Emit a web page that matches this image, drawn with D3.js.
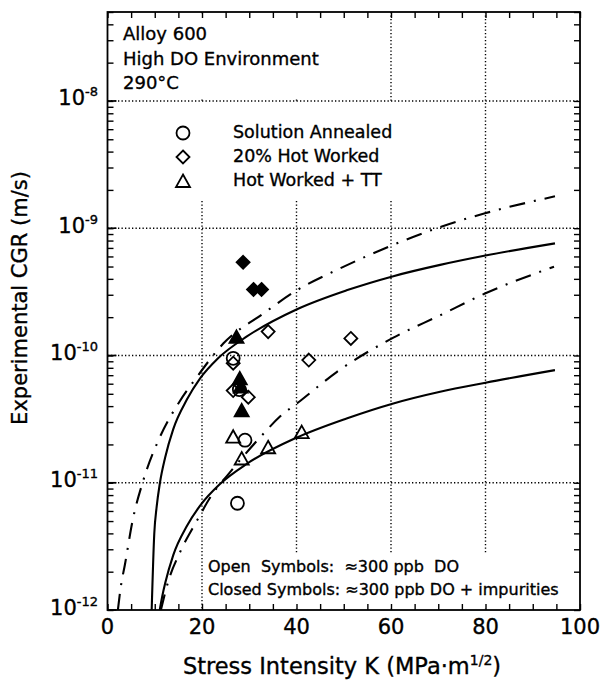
<!DOCTYPE html>
<html><head><meta charset="utf-8">
<script src="https://cdn.jsdelivr.net/npm/d3@7"></script>
<style>
html,body{margin:0;padding:0;background:#fff;}
svg text{font-family:"DejaVu Sans",sans-serif;fill:#000;stroke:#000;stroke-width:0.35px;}
</style></head><body>
<svg id="c" width="602" height="683"></svg>
<script>
// ---------- data ----------
const xTickLabels=[0,20,40,60,80,100];
const yTickExponents=[-12,-11,-10,-9,-8];
const xGridValues=[20,40,60,80];
const yGridValues=[1e-11,1e-10,1e-9,1e-8];

// model curves (K in MPa·m^1/2, CGR in m/s)
const upperSolidK=[9.35,9.9,10.4,11.1,12.2,13.9,16.8,19.6,23.4,29.5,40,50.6,60.5,70.4,80,94.7];
const upperSolidCGR=[1.0e-12,3.98e-12,6.46e-12,1.0e-11,1.58e-11,2.63e-11,4.5e-11,6.6e-11,9.5e-11,1.41e-10,2.3e-10,3.25e-10,4.2e-10,5.15e-10,6.1e-10,7.6e-10];
const lowerSolidK=[11.05,11.6,12.2,13.9,16.8,19.6,23.8,29.5,40,50.6,60.5,70.4,80,94.7];
const lowerSolidCGR=[1.0e-12,1.29e-12,1.62e-12,2.69e-12,4.57e-12,6.61e-12,9.77e-12,1.41e-11,2.26e-11,3.2e-11,4.2e-11,5.19e-11,6.11e-11,7.67e-11];
const upperDashDotK=[2.2,2.8,3.7,5.3,7.6,11.1,15.3,18.9,24.5,33,40,49.2,60.5,69.7,79.9,94.7];
const upperDashDotCGR=[1.0e-12,1.51e-12,2.29e-12,5.01e-12,1.05e-11,2.29e-11,4.37e-11,6.76e-11,1.24e-10,2.14e-10,3.24e-10,4.83e-10,7.41e-10,1.0e-9,1.31e-9,1.78e-9];
const lowerDashDotK=[11.3,12.9,15.3,18.9,22,25.6,32.6,36.5,40.7,48.5,60.5,70.4,80,94.5];
const lowerDashDotCGR=[1.0e-12,1.70e-12,2.82e-12,5.01e-12,7.94e-12,1.17e-11,2.34e-11,3.31e-11,4.37e-11,7.41e-11,1.38e-10,2.07e-10,3.08e-10,4.98e-10];

// measured points
const openCircleK=[26.6,27.9,29.1,27.5];
const openCircleCGR=[9.5e-11,5.4e-11,2.16e-11,6.9e-12];
const openDiamondK=[34.0,51.5,42.6,26.6,26.6,29.8];
const openDiamondCGR=[1.54e-10,1.36e-10,9.2e-11,8.7e-11,5.3e-11,4.7e-11];
const openTriangleK=[26.6,28.4,34.0,41.1];
const openTriangleCGR=[2.3e-11,1.55e-11,1.9e-11,2.5e-11];
const closedDiamondK=[28.7,30.9,32.6];
const closedDiamondCGR=[5.4e-10,3.3e-10,3.3e-10];
const closedTriangleK=[27.3,28.0,28.2,28.4];
const closedTriangleCGR=[1.4e-10,6.6e-11,5.7e-11,3.7e-11];

const legendLabels=["Solution Annealed","20% Hot Worked","Hot Worked + TT"];
const legendShapes=["circle","diamond","triangle"];
const titleLines=["Alloy 600","High DO Environment","290°C"];
const noteLines=["Open  Symbols:  ≈300 ppb  DO","Closed Symbols: ≈300 ppb DO + impurities"];

// ---------- layout ----------
const L=107.5,R=580,T=12,B=610;
const svg=d3.select('#c');
const x=d3.scaleLinear().domain([0,100]).range([L,R]);
const y=d3.scaleLog().domain([1e-12,5e-8]).range([B,T]);

svg.append('defs').append('clipPath').attr('id','plot')
  .append('rect').attr('x',L).attr('y',T).attr('width',R-L).attr('height',B-T);

const grid=svg.append('g').attr('stroke','#000').attr('stroke-width',1.4).attr('stroke-dasharray','1.3,2.2');
grid.selectAll('line.v').data(xGridValues).join('line').attr('class','v')
  .attr('x1',d=>x(d)).attr('x2',d=>x(d)).attr('y1',T).attr('y2',B);
grid.selectAll('line.h').data(yGridValues).join('line').attr('class','h')
  .attr('y1',d=>y(d)).attr('y2',d=>y(d)).attr('x1',L).attr('x2',R);

// white label backgrounds hiding grid
const masks=[[110,14,192,84],[163,103,240,97],[206,554,360,54]];
svg.selectAll('rect.mask').data(masks).join('rect').attr('class','mask')
  .attr('x',d=>d[0]).attr('y',d=>d[1]).attr('width',d=>d[2]).attr('height',d=>d[3]).attr('fill','#fff');

// curves
const line=d3.line().x(d=>x(d[0])).y(d=>y(d[1])).curve(d3.curveMonotoneX);
const curves=[
  {k:upperSolidK,v:upperSolidCGR,dash:null},
  {k:lowerSolidK,v:lowerSolidCGR,dash:null},
  {k:upperDashDotK,v:upperDashDotCGR,dash:'16,9,2,9'},
  {k:lowerDashDotK,v:lowerDashDotCGR,dash:'16,9,2,9'}
];
const cg=svg.append('g').attr('clip-path','url(#plot)');
curves.forEach(c=>{
  cg.append('path').datum(c.k.map((k,i)=>[k,c.v[i]]))
    .attr('d',line).attr('fill','none').attr('stroke','#000')
    .attr('stroke-width',2.1).attr('stroke-dasharray',c.dash);
});

// axes (inward ticks)
const yt=y.ticks();
const xt=x.ticks(20);
function styleAxis(g){g.select('.domain').remove();g.selectAll('line').attr('stroke','#000').attr('stroke-width',1.4);}
svg.append('g').attr('transform',`translate(${L},0)`).call(d3.axisLeft(y).tickValues(yt).tickSize(-6).tickSizeOuter(0).tickFormat('')).call(styleAxis);
svg.append('g').attr('transform',`translate(${R},0)`).call(d3.axisRight(y).tickValues(yt).tickSize(-6).tickSizeOuter(0).tickFormat('')).call(styleAxis);
svg.append('g').attr('transform',`translate(0,${B})`).call(d3.axisBottom(x).tickValues(xt).tickSize(-6).tickSizeOuter(0).tickFormat('')).call(styleAxis);
svg.append('g').attr('transform',`translate(0,${T})`).call(d3.axisTop(x).tickValues(xt).tickSize(-6).tickSizeOuter(0).tickFormat('')).call(styleAxis);
svg.selectAll('line.majY').data(yTickExponents).join('line').attr('class','majY')
  .attr('x1',L).attr('x2',L+9).attr('y1',d=>y(Math.pow(10,d))).attr('y2',d=>y(Math.pow(10,d))).attr('stroke','#000').attr('stroke-width',1.6);
svg.append('rect').attr('x',L).attr('y',T).attr('width',R-L).attr('height',B-T)
  .attr('fill','none').attr('stroke','#000').attr('stroke-width',1.8);

// markers
const shapes={
  circle:'M6.5,0A6.5,6.5 0 1,1 -6.5,0A6.5,6.5 0 1,1 6.5,0Z',
  diamond:'M0,-6.5L6.5,0L0,6.5L-6.5,0Z',
  triangle:'M0,-6.5L7,6L-7,6Z'
};
const sets=[
  {k:openCircleK,v:openCircleCGR,s:'circle',fill:false},
  {k:openDiamondK,v:openDiamondCGR,s:'diamond',fill:false},
  {k:openTriangleK,v:openTriangleCGR,s:'triangle',fill:false},
  {k:closedDiamondK,v:closedDiamondCGR,s:'diamond',fill:true},
  {k:closedTriangleK,v:closedTriangleCGR,s:'triangle',fill:true}
];
const mg=svg.append('g');
sets.forEach(st=>{
  mg.selectAll(null).data(st.k.map((k,i)=>[k,st.v[i]])).join('path')
    .attr('transform',d=>`translate(${x(d[0])},${y(d[1])})`)
    .attr('d',shapes[st.s]).attr('fill',st.fill?'#000':'none')
    .attr('stroke','#000').attr('stroke-width',1.8);
});

// legend
const lg=svg.append('g');
legendLabels.forEach((t,i)=>{
  lg.append('path').attr('transform',`translate(183,${133+i*24})`).attr('d',shapes[legendShapes[i]])
    .attr('fill','none').attr('stroke','#000').attr('stroke-width',1.8);
  lg.append('text').attr('x',233).attr('y',138+i*24).attr('font-size',17.5).text(t);
});

titleLines.forEach((t,i)=>{
  svg.append('text').attr('x',123).attr('y',40+i*24.5).attr('font-size',18).text(t);
});
noteLines.forEach((t,i)=>{
  svg.append('text').attr('x',208).attr('y',572+i*23).attr('font-size',16).style('white-space','pre').text(t);
});

// tick labels
svg.selectAll('text.xl').data(xTickLabels).join('text').attr('class','xl')
  .attr('x',d=>x(d)).attr('y',634).attr('text-anchor','middle').attr('font-size',21).text(d=>d);
yTickExponents.forEach(e=>{
  const t=svg.append('text').attr('x',98).attr('y',y(Math.pow(10,e))+4.5).attr('text-anchor','end').attr('font-size',21);
  t.append('tspan').text('10');
  t.append('tspan').attr('dy',-9).attr('font-size',13).text('-'+Math.abs(e));
});

// axis titles
const xt2=svg.append('text').attr('x',342).attr('y',674).attr('text-anchor','middle').attr('font-size',22.5);
xt2.append('tspan').text('Stress Intensity K (MPa·m');
xt2.append('tspan').attr('dy',-9).attr('font-size',14).text('1/2');
xt2.append('tspan').attr('dy',9).text(')');
svg.append('text').attr('transform','translate(27,298) rotate(-90)').attr('text-anchor','middle')
  .attr('font-size',21).text('Experimental CGR (m/s)');
</script></body></html>
